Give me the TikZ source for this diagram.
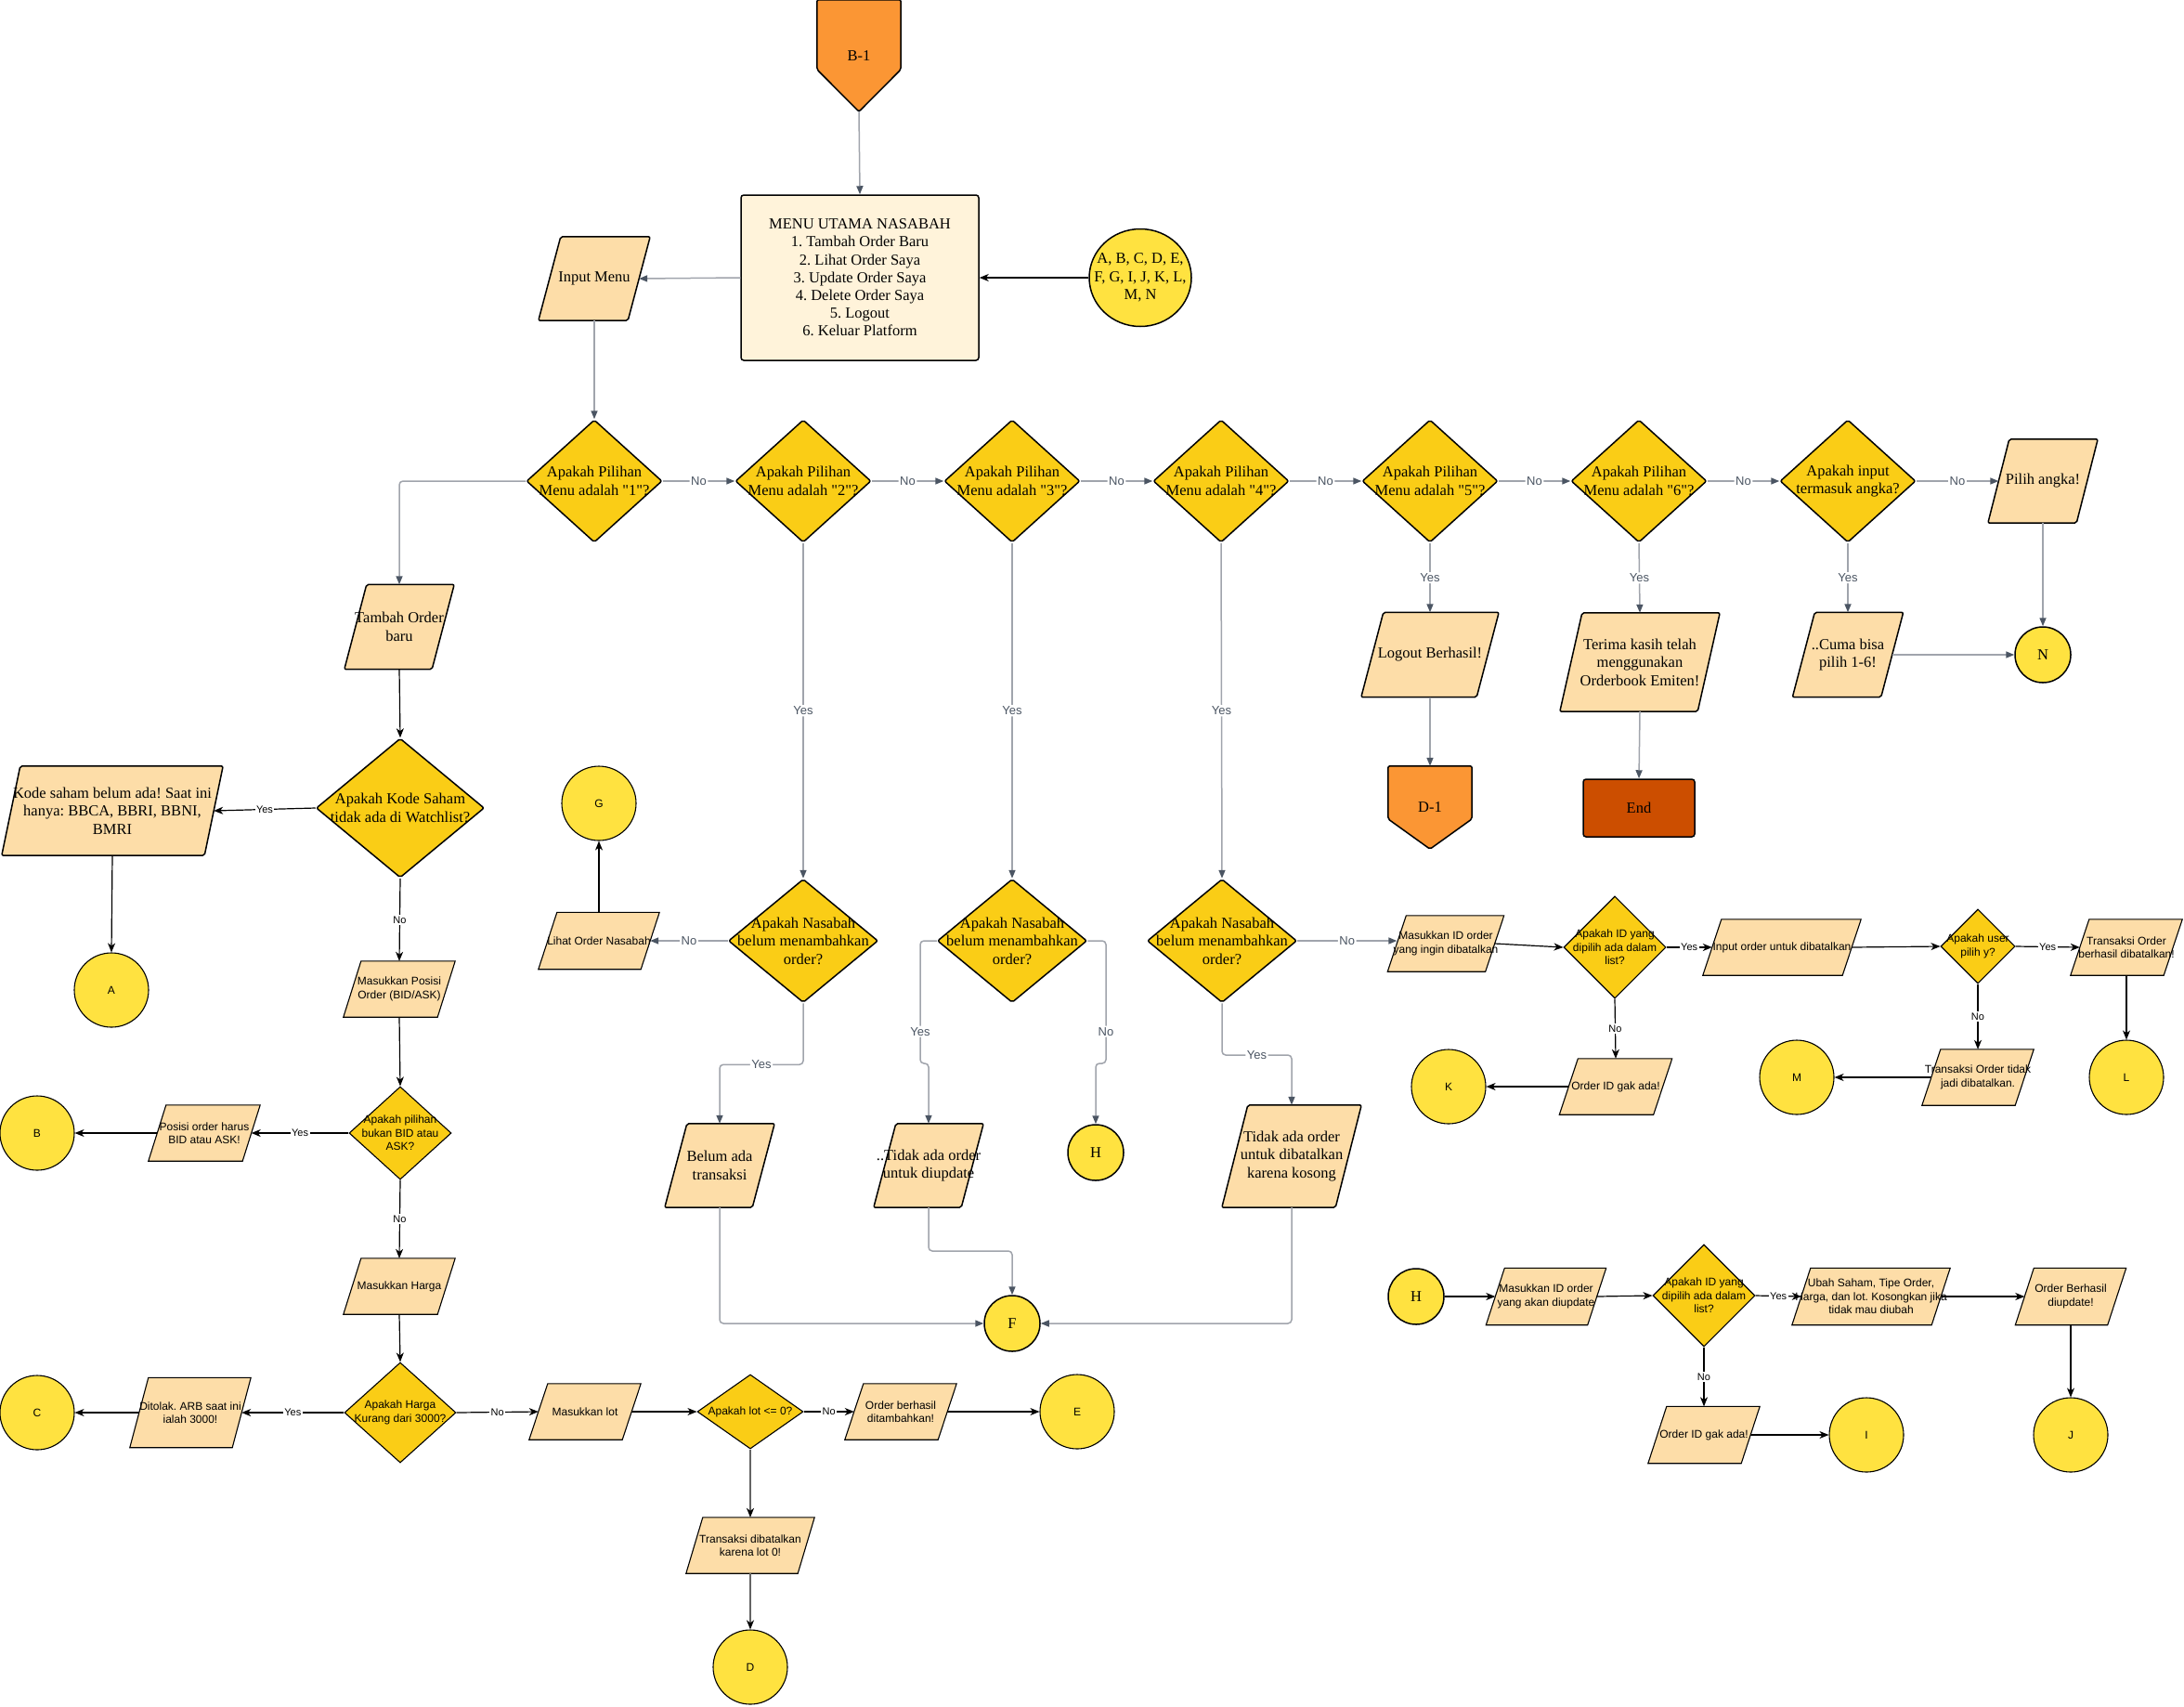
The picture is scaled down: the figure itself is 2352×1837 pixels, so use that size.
\documentclass[tikz,border=0pt]{standalone}
\usepackage{fontspec}
\setmainfont{Liberation Serif}
\newfontfamily\serf{Liberation Serif}
\newfontfamily\sansf{Liberation Sans}
\usetikzlibrary{shapes.geometric,arrows.meta,calc}
\frenchspacing
\definecolor{diaF}{RGB}{250,205,22}
\definecolor{paraF}{RGB}{253,221,168}
\definecolor{circF}{RGB}{255,226,64}
\definecolor{menuF}{RGB}{255,243,218}
\definecolor{offF}{RGB}{251,150,52}
\definecolor{endF}{RGB}{204,78,0}
\definecolor{lineG}{RGB}{160,164,172}
\definecolor{slate}{RGB}{75,85,99}
\definecolor{darkG}{RGB}{100,100,100}
\tikzset{
 serifT/.style={font=\serf\fontsize{16.5}{19.5}\selectfont, align=center, inner sep=0pt},
 sansT/.style={font=\sansf\fontsize{12}{14.5}\selectfont, align=center, inner sep=0pt},
 upline/.style={draw=black, line width=1.5pt, rounded corners=2pt},
 lowline/.style={draw=black, line width=1.1pt},
 gconn/.style={draw=lineG, line width=1.5pt, rounded corners=4pt, -{Triangle[length=9pt,width=7pt,color=slate]}},
 bconn/.style={draw=black, line width=1.2pt, -{Stealth[length=10pt,width=8pt,inset=3pt]}},
 dconn/.style={draw=darkG, line width=1.5pt, -{Stealth[length=10pt,width=8pt,inset=3pt,color=black]}},
 glbl/.style={fill=white, inner sep=1.5pt, text=slate, font=\sansf\fontsize{13}{15}\selectfont},
 blbl/.style={fill=white, inner sep=1.5pt, text=black, font=\sansf\fontsize{11}{13}\selectfont},
}
% parallelogram: shape style, text style, name, x, y, full width, height, slant, text
\newcommand{\para}[9]{%
 \node[inner sep=0pt, minimum width={#6pt-#8pt}, minimum height=#7pt] (#3) at (#4,#5) {};
 \draw[fill=paraF,#1] ($(#3.north west)+(#8pt/2,0pt)$) -- ($(#3.north east)+(#8pt/2,0pt)$) -- ($(#3.south east)-(#8pt/2,0pt)$) -- ($(#3.south west)-(#8pt/2,0pt)$) -- cycle;
 \node[#2] (#3-t) at (#3) {#9};}
% diamond: shape style, text style, name, x, y, w, h, text
\newcommand{\dia}[8]{%
 \node[diamond, fill=diaF, inner sep=0pt, minimum width=#6pt, minimum height=#7pt, #1] (#3) at (#4,#5) {};
 \node[#2] (#3-t) at (#3) {#8};}
% connector circle: shape style, text style, name, x, y, w, h, text
\newcommand{\conn}[8]{%
 \node[ellipse, fill=circF, inner sep=0pt, minimum width=#6pt, minimum height=#7pt, #1] (#3) at (#4,#5) {};
 \node[#2] (#3-t) at (#3) {#8};}
% off-page connector: name, x, y, w, h, body height, text
\newcommand{\offpage}[7]{%
 \node[inner sep=0pt, minimum width=#4pt, minimum height=#5pt] (#1) at (#2,#3) {};
 \draw[fill=offF, upline] (#1.north west) -- (#1.north east) -- ($(#1.north east)+(0pt,-#6pt)$) -- (#1.south) -- ($(#1.north west)+(0pt,-#6pt)$) -- cycle;
 \node[serifT] (#1-t) at (#1) {#7};}
\begin{document}
\begin{tikzpicture}[x=1pt,y=-1pt]
\fill[white] (0,0) rectangle (2352,1837);
\useasboundingbox (0,0) rectangle (2352,1837);

% ---------- top ----------
\offpage{b1}{925}{60}{90}{120}{75}{B-1}
\node[rectangle, fill=menuF, upline, rounded corners=3pt, minimum width=256pt, minimum height=178pt] (menu) at (926,299) {};
\node[serifT, font=\serf\fontsize{16.5}{19.2}\selectfont] (menu-t) at (menu) {MENU UTAMA NASABAH\\1. Tambah Order Baru\\2. Lihat Order Saya\\3. Update Order Saya\\4. Delete Order Saya\\5. Logout\\6. Keluar Platform};
\para{upline}{serifT}{inmenu}{640}{300}{120}{90}{24}{Input Menu}
\conn{upline}{serifT}{abc}{1228}{299}{110}{105}{A, B, C, D, E,\\F, G, I, J, K, L,\\M, N}

% ---------- decision row ----------
\dia{upline}{serifT}{d1}{640}{518}{146}{132}{Apakah Pilihan\\Menu adalah "1"?}
\dia{upline}{serifT}{d2}{865}{518}{146}{132}{Apakah Pilihan\\Menu adalah "2"?}
\dia{upline}{serifT}{d3}{1090}{518}{146}{132}{Apakah Pilihan\\Menu adalah "3"?}
\dia{upline}{serifT}{d4}{1315}{518}{146}{132}{Apakah Pilihan\\Menu adalah "4"?}
\dia{upline}{serifT}{d5}{1540}{518}{146}{132}{Apakah Pilihan\\Menu adalah "5"?}
\dia{upline}{serifT}{d6}{1765}{518}{146}{132}{Apakah Pilihan\\Menu adalah "6"?}
\dia{upline}{serifT}{d7}{1990}{518}{146}{132}{Apakah input\\termasuk angka?}
\para{upline}{serifT}{pilih}{2200}{518}{118}{90}{23}{Pilih angka!}

% ---------- upper right ----------
\para{upline}{serifT}{logout}{1540}{705}{148}{91}{24}{Logout Berhasil!}
\offpage{doff}{1540}{869.5}{90}{89}{57}{D-1}
\para{upline}{serifT}{terima}{1766}{713}{172}{106}{24}{Terima kasih telah\\menggunakan\\Orderbook Emiten!}
\node[rectangle, fill=endF, upline, rounded corners=3pt, minimum width=120pt, minimum height=62pt] (end) at (1765,870) {};
\node[serifT] (end-t) at (end) {End};
\para{upline}{serifT}{cuma}{1990}{705}{119}{91}{24}{..Cuma bisa\\pilih 1-6!}
\conn{upline}{serifT}{N}{2200}{705}{60}{60}{N}

% ---------- menu 1 (tambah order) ----------
\para{upline}{serifT}{tambah}{430}{675}{118}{91}{24}{Tambah Order\\baru}
\dia{upline}{serifT}{kode}{431}{870}{181}{150}{Apakah Kode Saham\\tidak ada di Watchlist?}
\para{upline}{serifT}{kodeMsg}{121}{873}{238}{96}{20}{Kode saham belum ada! Saat ini\\hanya: BBCA, BBRI, BBNI,\\BMRI}
\conn{lowline}{sansT}{A}{120}{1066}{80}{80}{A}
\para{lowline}{sansT}{posisi}{430}{1065}{120}{60}{19}{Masukkan Posisi\\Order (BID/ASK)}
\dia{lowline}{sansT}{bid}{431}{1220}{110}{100}{Apakah pilihan\\bukan BID atau\\ASK?}
\para{lowline}{sansT}{posMsg}{220}{1220}{120}{60}{19}{Posisi order harus\\BID atau ASK!}
\conn{lowline}{sansT}{B}{40}{1220}{80}{80}{B}
\para{lowline}{sansT}{harga}{430}{1385}{120}{60}{19}{Masukkan Harga}
\dia{lowline}{sansT}{hd}{431}{1521}{120}{108}{Apakah Harga\\Kurang dari 3000?}
\para{lowline}{sansT}{tolak}{205}{1521}{130}{75}{20}{Ditolak. ARB saat ini\\ialah 3000!}
\conn{lowline}{sansT}{C}{40}{1521}{80}{80}{C}
\para{lowline}{sansT}{lot}{630}{1520}{120}{60}{20}{Masukkan lot}
\dia{lowline}{sansT}{lotd}{808}{1520}{114}{80}{Apakah lot <= 0?}
\para{lowline}{sansT}{berhasil}{970}{1520}{120}{60}{20}{Order berhasil\\ditambahkan!}
\conn{lowline}{sansT}{E}{1160}{1520}{80}{80}{E}
\para{lowline}{sansT}{batal}{808}{1664}{138}{60}{18}{Transaksi dibatalkan\\karena lot 0!}
\conn{lowline}{sansT}{D}{808}{1795}{80}{80}{D}

% ---------- menu 2/3/4 ----------
\conn{lowline}{sansT}{G}{645}{865}{80}{80}{G}
\para{lowline}{sansT}{lihat}{645}{1013}{130}{61}{20}{Lihat Order Nasabah}
\dia{upline}{serifT}{n1}{865}{1013}{161}{133}{Apakah Nasabah\\belum menambahkan\\order?}
\dia{upline}{serifT}{n2}{1090}{1013}{161}{133}{Apakah Nasabah\\belum menambahkan\\order?}
\dia{upline}{serifT}{n3}{1316}{1013}{161}{133}{Apakah Nasabah\\belum menambahkan\\order?}
\para{upline}{serifT}{belum}{775}{1255}{118}{90}{24}{Belum ada\\transaksi}
\para{upline}{serifT}{tidakUp}{1000}{1255}{118}{90}{24}{..Tidak ada order\\untuk diupdate}
\conn{upline}{serifT}{H1}{1180}{1241}{60}{60}{H}
\para{upline}{serifT}{tidakDel}{1391}{1245}{150}{110}{28}{Tidak ada order\\untuk dibatalkan\\karena kosong}
\conn{upline}{serifT}{F}{1090}{1425}{60}{60}{F}

% ---------- delete flow ----------
\para{lowline}{sansT}{masukDel}{1557}{1016}{125}{60}{20}{Masukkan ID order\\yang ingin dibatalkan}
\dia{lowline}{sansT}{idd1}{1739}{1020}{110}{110}{Apakah ID yang\\dipilih ada dalam\\list?}
\para{lowline}{sansT}{inputDel}{1919}{1020}{170}{60}{20}{Input order untuk dibatalkan}
\dia{lowline}{sansT}{userd}{2130}{1019}{80}{80}{Apakah user\\pilih y?}
\para{lowline}{sansT}{sukses}{2290}{1020}{120}{60}{20}{Transaksi Order\\berhasil dibatalkan!}
\conn{lowline}{sansT}{L}{2290}{1160}{80}{80}{L}
\para{lowline}{sansT}{tidakJadi}{2130}{1160}{120}{60}{20}{Transaksi Order tidak\\jadi dibatalkan.}
\conn{lowline}{sansT}{M}{1935}{1160}{80}{80}{M}
\para{lowline}{sansT}{gak1}{1740}{1170}{121}{60}{20}{Order ID gak ada!}
\conn{lowline}{sansT}{K}{1560}{1170}{80}{80}{K}

% ---------- update flow ----------
\conn{upline}{serifT}{H2}{1525}{1396}{60}{60}{H}
\para{lowline}{sansT}{masukUp}{1665}{1396}{129}{61}{20}{Masukkan ID order\\yang akan diupdate}
\dia{lowline}{sansT}{idd2}{1835}{1395}{110}{110}{Apakah ID yang\\dipilih ada dalam\\list?}
\para{lowline}{sansT}{ubah}{2015}{1396}{170}{61}{20}{Ubah Saham, Tipe Order,\\Harga, dan lot. Kosongkan jika\\tidak mau diubah}
\para{lowline}{sansT}{okUp}{2230}{1396}{119}{61}{20}{Order Berhasil\\diupdate!}
\conn{lowline}{sansT}{J}{2230}{1545}{80}{80}{J}
\para{lowline}{sansT}{gak2}{1835}{1545}{120}{61}{20}{Order ID gak ada!}
\conn{lowline}{sansT}{I}{2010}{1545}{80}{80}{I}

% ---------- connectors ----------
\draw[gconn] (b1.south) -- (menu.north);
\draw[gconn] (menu.west) -- (inmenu.east);
\draw[bconn] (abc.west) -- (menu.east);
\draw[gconn] (inmenu.south) -- (d1.north);
\draw[gconn] (d1.east) -- node[glbl]{No} (d2.west);
\draw[gconn] (d2.east) -- node[glbl]{No} (d3.west);
\draw[gconn] (d3.east) -- node[glbl]{No} (d4.west);
\draw[gconn] (d4.east) -- node[glbl]{No} (d5.west);
\draw[gconn] (d5.east) -- node[glbl]{No} (d6.west);
\draw[gconn] (d6.east) -- node[glbl]{No} (d7.west);
\draw[gconn] (d7.east) -- node[glbl]{No} (pilih.west);
\draw[gconn] (d1.west) -| (tambah.north);

\draw[gconn] (d5.south) -- node[glbl]{Yes} (logout.north);
\draw[gconn] (logout.south) -- (doff.north);
\draw[gconn] (d6.south) -- node[glbl]{Yes} (terima.north);
\draw[gconn] (terima.south) -- (end.north);
\draw[gconn] (d7.south) -- node[glbl]{Yes} (cuma.north);
\draw[gconn] (cuma.east) -- (N.west);
\draw[gconn] (pilih.south) -- (N.north);

\draw[bconn] (tambah.south) -- (kode.north);
\draw[bconn] (kode.west) -- node[blbl]{Yes} (kodeMsg.east);
\draw[bconn] (kodeMsg.south) -- (A.north);
\draw[bconn] (kode.south) -- node[blbl]{No} (posisi.north);
\draw[bconn] (posisi.south) -- (bid.north);
\draw[bconn] (bid.west) -- node[blbl]{Yes} (posMsg.east);
\draw[bconn] (posMsg.west) -- (B.east);
\draw[bconn] (bid.south) -- node[blbl]{No} (harga.north);
\draw[bconn] (harga.south) -- (hd.north);
\draw[bconn] (hd.west) -- node[blbl]{Yes} (tolak.east);
\draw[bconn] (tolak.west) -- (C.east);
\draw[bconn] (hd.east) -- node[blbl]{No} (lot.west);
\draw[bconn] (lot.east) -- (lotd.west);
\draw[bconn] (lotd.east) -- node[blbl]{No} (berhasil.west);
\draw[bconn] (berhasil.east) -- (E.west);
\draw[dconn] (lotd.south) -- (batal.north);
\draw[dconn] (batal.south) -- (D.north);

\draw[gconn] (d2.south) -- node[glbl]{Yes} (n1.north);
\draw[gconn] (n1.west) -- node[glbl]{No} (lihat.east);
\draw[bconn] (lihat.north) -- (G.south);
\draw[gconn] (n1.south) -- ++(0,66) -- node[glbl]{Yes} ++(-90,0) -- (belum.north);
\draw[gconn] (belum.south) |- (F.west);
\draw[gconn] (d3.south) -- node[glbl]{Yes} (n2.north);
\draw[gconn] (n2.west) -- (991,1013) -- node[glbl,pos=0.74]{Yes} (991,1145) -- (1000,1145) -- (tidakUp.north);
\draw[gconn] (tidakUp.south) -- (1000,1347) -| (F.north);
\draw[gconn] (n2.east) -- (1191,1013) -- node[glbl,pos=0.74]{No} (1191,1145) -- (1180,1145) -- (H1.north);
\draw[gconn] (d4.south) -- node[glbl]{Yes} (n3.north);
\draw[gconn] (n3.south) -- (1316,1136) -- node[glbl]{Yes} (1391,1136) -- (tidakDel.north);
\draw[gconn] (tidakDel.south) |- (F.east);
\draw[gconn] (n3.east) -- node[glbl]{No} (n3.east -| masukDel.west);

\draw[bconn] (masukDel.east) -- (idd1.west);
\draw[bconn] (idd1.east) -- node[blbl]{Yes} (inputDel.west);
\draw[bconn] (inputDel.east) -- (userd.west);
\draw[bconn] (userd.east) -- node[blbl]{Yes} (sukses.west);
\draw[bconn] (sukses.south) -- (L.north);
\draw[bconn] (userd.south) -- node[blbl]{No} (tidakJadi.north);
\draw[bconn] (tidakJadi.west) -- (M.east);
\draw[bconn] (idd1.south) -- node[blbl]{No} (gak1.north);
\draw[bconn] (gak1.west) -- (K.east);

\draw[bconn] (H2.east) -- (masukUp.west);
\draw[bconn] (masukUp.east) -- (idd2.west);
\draw[bconn] (idd2.east) -- node[blbl]{Yes} (ubah.west);
\draw[bconn] (ubah.east) -- (okUp.west);
\draw[bconn] (okUp.south) -- (J.north);
\draw[bconn] (idd2.south) -- node[blbl]{No} (gak2.north);
\draw[bconn] (gak2.east) -- (I.west);
\end{tikzpicture}
\end{document}
